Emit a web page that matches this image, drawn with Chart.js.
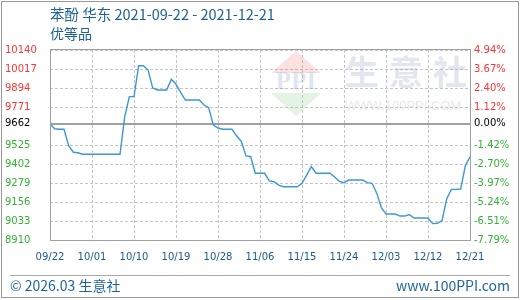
<!DOCTYPE html>
<html>
<head>
<meta charset="utf-8">
<script src="https://cdn.jsdelivr.net/npm/chart.js@4.4.0/dist/chart.umd.min.js"></script>
<style>
body { margin: 0; background: #fff; }
#wrap { position: relative; width: 520px; height: 300px; overflow: hidden; font-family: "Noto Sans CJK SC", sans-serif; }
#chart { position: absolute; left: 0; top: 0; }
.frame { position: absolute; left: 1px; top: 1px; width: 518px; height: 297px; box-sizing: border-box; border: 1px solid #999; pointer-events: none; }
.title { position: absolute; left: 50px; top: 5px; font-size: 14.5px; line-height: 18px; color: #1e6193; white-space: nowrap; }
.sub { position: absolute; left: 50px; top: 24px; font-size: 14px; line-height: 18px; color: #1e6193; }
.sep { position: absolute; left: 10px; top: 275px; width: 500px; height: 1px; background: #aaa; }
.foot { position: absolute; top: 276px; font-size: 14px; line-height: 18px; color: #1f64a0; white-space: nowrap; }
</style>
</head>
<body>
<div id="wrap">
  <canvas id="chart" width="520" height="300"></canvas>
  <div class="title">苯酚 华东 2021-09-22 - 2021-12-21</div>
  <div class="sub">优等品</div>
  <div class="sep"></div>
  <div class="foot" style="left:10px">© 2026.03 生意社</div>
  <div class="foot" style="right:10px">www.100PPI.com</div>
  <div class="frame"></div>
</div>
<script>
// x axis labels, one every 9 days
const xLabels = ['09/22', '10/01', '10/10', '10/19', '10/28', '11/06', '11/15', '11/24', '12/03', '12/12', '12/21'];

// daily price 2021-09-22 .. 2021-12-21
const prices = [
    9662, 9630, 9627, 9627, 9520, 9478, 9475, 9465, 9465, 9465,
    9465, 9465, 9465, 9465, 9465, 9465, 9705, 9838, 9838, 10038,
    10038, 10012, 9895, 9881, 9881, 9881, 9950, 9918, 9865, 9816,
    9816, 9816, 9816, 9784, 9767, 9654, 9635, 9627, 9627, 9627,
    9583, 9548, 9454, 9449, 9342, 9342, 9342, 9293, 9287, 9265,
    9255, 9255, 9255, 9255, 9277, 9330, 9385, 9342, 9342, 9342,
    9342, 9318, 9290, 9281, 9298, 9298, 9298, 9298, 9281, 9277,
    9215, 9120, 9078, 9078, 9078, 9065, 9065, 9075, 9052, 9052,
    9052, 9052, 9016, 9018, 9035, 9175, 9238, 9238, 9240, 9390,
    9449
];

const baseValue = 9662;
const yTicks = [8910, 9033, 9156, 9279, 9402, 9525, 9662, 9771, 9894, 10017, 10140];
const pctLabels = ['-7.79%', '-6.51%', '-5.24%', '-3.97%', '-2.70%', '-1.42%', '0.00%', '1.12%', '2.40%', '3.67%', '4.94%'];

function tickColor(ctx) {
    const v = ctx.tick.value;
    if (v > baseValue) return '#ff3333';
    if (v < baseValue) return '#33b233';
    return '#000';
}

const tickFont = { family: 'DejaVu Sans', size: 10 };

// watermark + zero line, drawn under the data
const backdrop = {
    id: 'backdrop',
    beforeDatasetsDraw(chart) {
        const ctx = chart.ctx;
        const a = chart.chartArea;
        ctx.save();
        // logo
        ctx.fillStyle = 'rgba(240,120,120,0.22)';
        ctx.beginPath();
        ctx.moveTo(296, 51); ctx.lineTo(321, 73); ctx.lineTo(271, 73);
        ctx.fill();
        ctx.fillStyle = 'rgba(130,200,130,0.22)';
        ctx.beginPath();
        ctx.moveTo(271, 93); ctx.lineTo(321, 93); ctx.lineTo(296, 116);
        ctx.fill();
        ctx.fillStyle = 'rgba(110,140,200,0.22)';
        ctx.font = 'bold 25px "Liberation Serif"';
        ctx.textAlign = 'center';
        ctx.textBaseline = 'middle';
        ctx.fillText('PPI', 296, 83);
        ctx.fillStyle = 'rgba(150,165,195,0.28)';
        ctx.font = 'bold 34px "Noto Sans CJK SC"';
        ctx.textAlign = 'left';
        ['生', '意', '社'].forEach((c, i) => ctx.fillText(c, 345 + i * 44, 72));
        ctx.fillStyle = 'rgba(170,170,170,0.28)';
        ctx.font = '13px "Liberation Sans"';
        ctx.fillText('WWW.100PPI.COM', 345, 106);

        // base price line
        const y = Math.round(chart.scales.y.getPixelForValue(baseValue));
        ctx.strokeStyle = '#a0a0a0';
        ctx.lineWidth = 2;
        ctx.beginPath();
        ctx.moveTo(a.left, y);
        ctx.lineTo(a.right, y);
        ctx.stroke();
        ctx.restore();
    },
    afterDatasetsDraw(chart) {
        const ctx = chart.ctx;
        const a = chart.chartArea;
        ctx.save();
        ctx.strokeStyle = '#a0a0a0';
        ctx.lineWidth = 1;
        ctx.strokeRect(a.left + 0.5, a.top - 0.5, a.right - a.left, a.bottom - a.top + 1);
        ctx.restore();
    }
};

new Chart(document.getElementById('chart'), {
    type: 'line',
    data: {
        datasets: [{
            data: prices.map((v, i) => ({ x: i, y: v })),
            borderColor: '#3b98d6',
            borderWidth: 1.4,
            pointRadius: 0,
            tension: 0,
            fill: false
        }]
    },
    options: {
        responsive: false,
        animation: false,
        layout: { padding: { top: 50, left: 5, right: 0, bottom: 0 } },
        plugins: { legend: { display: false }, tooltip: { enabled: false } },
        scales: {
            x: {
                type: 'linear',
                min: 0,
                max: 90,
                afterFit: s => { s.height = 60; },
                grid: { color: '#c4c4c4', drawTicks: false },
                border: { display: false, dash: [3, 2] },
                ticks: {
                    stepSize: 9,
                    autoSkip: false,
                    maxRotation: 0,
                    padding: 11,
                    color: '#1b5a86',
                    font: tickFont,
                    callback: (v, i) => xLabels[i]
                }
            },
            y: {
                position: 'left',
                min: 8910,
                max: 10140,
                afterFit: s => { s.width = 45; },
                afterBuildTicks: s => { s.ticks = yTicks.map(v => ({ value: v })); },
                grid: { color: '#c4c4c4', drawTicks: false },
                border: { display: false, dash: [3, 2] },
                ticks: {
                    autoSkip: false,
                    crossAlign: 'far',
                    color: tickColor,
                    font: tickFont,
                    callback: v => String(v)
                }
            },
            y2: {
                position: 'right',
                min: 8910,
                max: 10140,
                afterFit: s => { s.width = 50; },
                afterBuildTicks: s => { s.ticks = yTicks.map(v => ({ value: v })); },
                grid: { display: false, drawTicks: false },
                border: { display: false },
                ticks: {
                    autoSkip: false,
                    padding: 4,
                    color: tickColor,
                    font: tickFont,
                    callback: (v, i) => pctLabels[i]
                }
            }
        }
    },
    plugins: [backdrop]
});
</script>
</body>
</html>
